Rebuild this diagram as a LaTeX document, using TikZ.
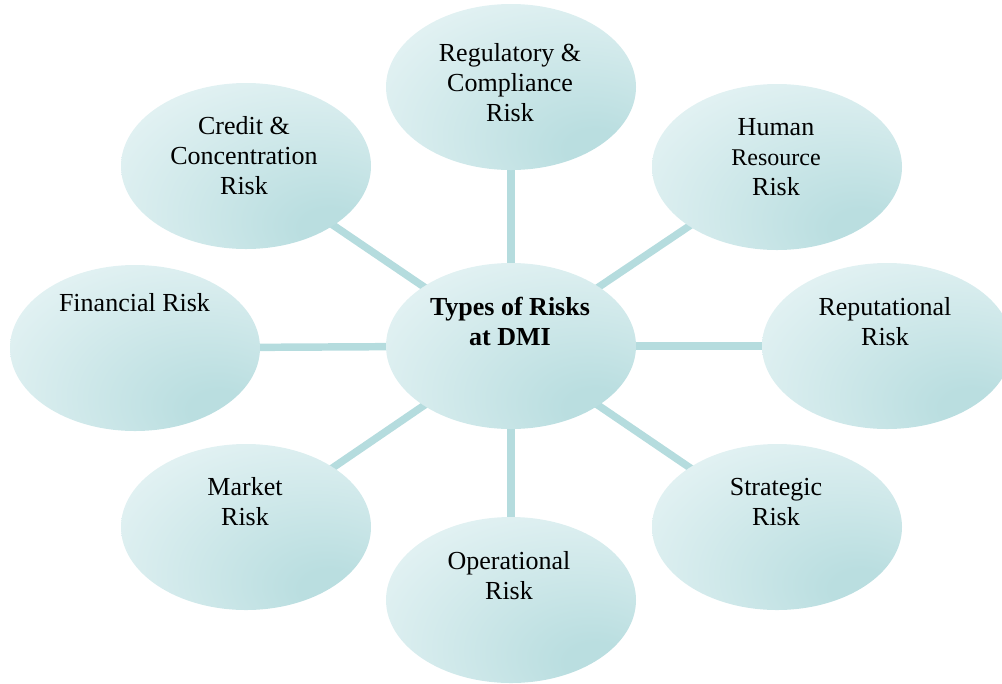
\documentclass[tikz,border=0pt]{standalone}
\usepackage{fontspec}
\setmainfont{Liberation Serif}
\usetikzlibrary{shapes.geometric}

\definecolor{rskL}{HTML}{E7F4F5}
\definecolor{rskD}{HTML}{BADEE0}
\definecolor{linkC}{HTML}{B5DCDE}

% soft light-to-teal fill, darkest towards the lower right
\pgfdeclareradialshading{riskshade}{\pgfpoint{18bp}{-20bp}}{%
  color(0bp)=(rskD); color(6bp)=(rskD); color(46bp)=(rskL); color(100bp)=(rskL)}

\tikzset{
  bubble/.style={ellipse, shade, shading=riskshade, draw=none,
    minimum width=187.5pt, minimum height=124.5pt, inner sep=0pt},
  lbl/.style={align=center, inner sep=0pt,
    font=\fontsize{19.5pt}{22.5pt}\selectfont},
  link/.style={draw=linkC, line width=5.6pt}
}

\begin{document}
\begin{tikzpicture}[x=0.75pt, y=-0.75pt]
\useasboundingbox (0,0) rectangle (1002,683);
\clip (0,0) rectangle (1002,683);

% hub and the eight risk bubbles (centres)
\coordinate (pC) at (511,346);
\coordinate (pReg) at (511,87);
\coordinate (pHum) at (777,167);
\coordinate (pRep) at (887,346);
\coordinate (pStr) at (777,527);
\coordinate (pOpe) at (511,600);
\coordinate (pMar) at (246,527);
\coordinate (pFin) at (135,348);
\coordinate (pCre) at (246,166);

% spokes, drawn first so the bubbles cover their ends
\draw[link] (pC) -- (pReg);
\draw[link] (pC) -- (pHum);
\draw[link] (pC) -- (pRep);
\draw[link] (pC) -- (pStr);
\draw[link] (pC) -- (pOpe);
\draw[link] (pC) -- (pMar);
\draw[link] (pC) -- (pFin);
\draw[link] (pC) -- (pCre);

\node[bubble] (hub) at (pC) {};
\node[bubble] (reg) at (pReg) {};
\node[bubble] (hum) at (pHum) {};
\node[bubble] (rep) at (pRep) {};
\node[bubble] (str) at (pStr) {};
\node[bubble] (ope) at (pOpe) {};
\node[bubble] (mar) at (pMar) {};
\node[bubble] (fin) at (pFin) {};
\node[bubble] (cre) at (pCre) {};

% labels, set in the upper part of each bubble
\node[lbl, font=\bfseries\fontsize{19.5pt}{22.5pt}\selectfont] (tHub) at (510,321) {Types of Risks\\at DMI};
\node[lbl] (tReg) at (510,83) {Regulatory \&\\Compliance\\Risk};
\node[lbl] (tHum) at (776,157) {Human\\{\fontsize{18pt}{22.5pt}\selectfont Resource}\\Risk};
\node[lbl] (tRep) at (885,322) {Reputational\\Risk};
\node[lbl] (tStr) at (776,502) {Strategic\\Risk};
\node[lbl] (tOpe) at (509,576) {Operational\\Risk};
\node[lbl] (tMar) at (245,502) {Market\\Risk};
\node[lbl] (tFin) at (134.5,303) {Financial Risk};
\node[lbl] (tCre) at (244,156) {Credit \&\\Concentration\\Risk};
\end{tikzpicture}
\end{document}
